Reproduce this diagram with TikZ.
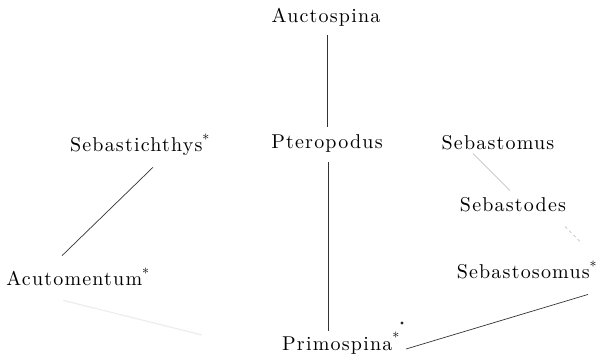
\documentclass[tikz,border=0pt]{standalone}
\usepackage{fontspec}
\newfontfamily\taxfont{lmroman10-regular.otf}[LetterSpace=6]
\usetikzlibrary{calc}
\begin{document}
\begin{tikzpicture}[x=1pt,y=-1pt,
  taxon/.style={inner sep=0pt,font=\taxfont\fontsize{20}{22}\selectfont},
  link/.style={line width=0.7pt,draw=black!80},
  faint/.style={line width=0.6pt,draw=black!30},
  ghost/.style={line width=1.2pt,draw=black!7}]
\useasboundingbox (0,0) rectangle (601,360);
\node[taxon] (auc) at (326,17) {Auctospina};
\node[taxon] (pte) at (327,143) {Pteropodus};
\node[taxon] (sbt) at (140,145) {Sebastichthys\textsuperscript{*}};
\node[taxon] (acu) at (78,277) {Acutomentum\textsuperscript{*}};
\node[taxon] (sbm) at (498,143) {Sebastomus};
\node[taxon] (sbd) at (513,205) {Sebastodes};
\node[taxon] (sbs) at (527,270) {Sebastosomus\textsuperscript{*}};
\node[taxon] (pri) at (341,343) {Primospina\textsuperscript{*}};
% connectors
\draw[link] ($(auc.south)+(1.5,9)$) -- ($(pte.north)+(0.5,-7)$);
\draw[link] ($(pte.south)+(1.5,10)$) -- ($(pri.north)+(-12.5,-1)$);
\draw[link] ($(sbt.south)+(13,11)$) -- ($(acu.north)+(-16,-12)$);
\draw[faint] ($(sbm.south)+(-25,3)$) -- ($(sbd.north)+(-3,-7)$);
\draw[faint,dash pattern=on 3pt off 3pt] ($(sbd.south)+(52,14)$) -- ($(sbs.north)+(55,-17)$);
\draw[link] ($(sbs.south)+(61,15)$) -- ($(pri.east)+(6,6)$);
\draw[ghost] ($(acu.south)+(-15,14)$) -- ($(pri.west)+(-80,-8)$);
% stray dot
\fill[black!85] (402,323) circle (1.6);
\end{tikzpicture}
\end{document}
